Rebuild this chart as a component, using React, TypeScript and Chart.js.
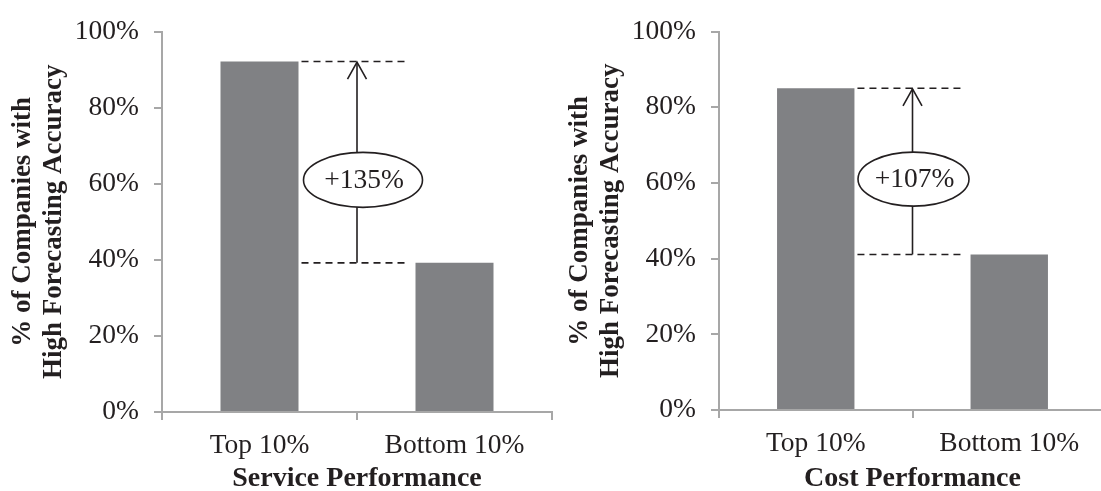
import React, { useEffect, useRef } from "react";
import { Chart, registerables } from "chart.js";

Chart.register(...registerables);

// Data
const categories = ["Top 10%", "Bottom 10%"];
const serviceValues = [92.1, 39.2];
const costValues = [85.0, 41.1];
const serviceGainLabel = "+135%";
const costGainLabel = "+107%";
const yAxisTitle = ["% of Companies with", "High Forecasting Accuracy"];
const serviceAxisTitle = "Service Performance";
const costAxisTitle = "Cost Performance";
const yMin = 0;
const yMax = 100;
const yStep = 20;
const gainLabelLevel = 61; // value on the y axis where the gain bubble sits

// Styles
const SERIF = "'Liberation Serif', 'Times New Roman', serif";
const TEXT = "#231f20";
const AXIS = "#a7a7a7";
const BAR = "#808184";
const Y_AXIS_WIDTH = 162;
const LABEL_SIZE = 27.5;

type PanelProps = {
  values: number[];
  gainLabel: string;
  xTitle: string;
  canvasLeft: number;
  plotWidth: number;
  plotTop: number;
  xAxisHeight: number;
  bubbleW: number;
  bubbleH: number;
  bubbleDx: number;
};

function Panel(props: PanelProps) {
  const ref = useRef<HTMLCanvasElement>(null);
  const width = Y_AXIS_WIDTH + props.plotWidth + 3;
  const height = 491;

  useEffect(() => {
    const { values, gainLabel } = props;

    const gainMarker = {
      id: "gainMarker",
      afterDatasetsDraw(chart: any) {
        const ctx = chart.ctx as CanvasRenderingContext2D;
        const bars = chart.getDatasetMeta(0).data as any[];
        const xs = chart.scales.x;
        const ys = chart.scales.y;
        const yHi = ys.getPixelForValue(values[0]);
        const yLo = ys.getPixelForValue(values[1]);
        const hiRight = bars[0].x + bars[0].width / 2;
        const loLeft = bars[1].x - bars[1].width / 2;
        const ax = (xs.getPixelForValue(0) + xs.getPixelForValue(1)) / 2;

        ctx.save();
        ctx.strokeStyle = TEXT;
        ctx.lineWidth = 1.6;

        // dashed reference levels
        ctx.setLineDash([7, 5]);
        for (const y of [yHi, yLo]) {
          ctx.beginPath();
          ctx.moveTo(hiRight + 3, y);
          ctx.lineTo(loLeft - 8, y);
          ctx.stroke();
        }
        ctx.setLineDash([]);

        // arrow stem and open head
        ctx.beginPath();
        ctx.moveTo(ax, yLo);
        ctx.lineTo(ax, yHi + 1);
        ctx.stroke();
        ctx.beginPath();
        ctx.moveTo(ax - 9.5, yHi + 17.5);
        ctx.lineTo(ax, yHi + 0.5);
        ctx.lineTo(ax + 9.5, yHi + 17.5);
        ctx.stroke();

        // gain bubble
        const cx = ax + props.bubbleDx;
        const cy = ys.getPixelForValue(gainLabelLevel);
        ctx.beginPath();
        ctx.ellipse(cx, cy, props.bubbleW / 2, props.bubbleH / 2, 0, 0, Math.PI * 2);
        ctx.fillStyle = "#ffffff";
        ctx.fill();
        ctx.lineWidth = 1.6;
        ctx.stroke();

        ctx.fillStyle = TEXT;
        ctx.font = `${LABEL_SIZE}px ${SERIF}`;
        ctx.textAlign = "center";
        ctx.textBaseline = "middle";
        ctx.fillText(gainLabel, cx + 1, cy + 1);
        ctx.restore();
      },
    };

    const chart = new Chart(ref.current as HTMLCanvasElement, {
      type: "bar",
      data: {
        labels: categories,
        datasets: [
          {
            data: values,
            backgroundColor: BAR,
            borderWidth: 0,
            categoryPercentage: 1,
            barPercentage: 0.4,
          },
        ],
      },
      options: {
        responsive: false,
        animation: false,
        events: [],
        layout: {
          padding: { top: props.plotTop, right: 3, bottom: 0, left: 0 },
        },
        plugins: {
          legend: { display: false },
          tooltip: { enabled: false },
        },
        scales: {
          x: {
            offset: true,
            grid: {
              display: true,
              offset: true,
              drawOnChartArea: false,
              drawTicks: true,
              tickLength: 8,
              color: AXIS,
              lineWidth: 2,
            },
            border: { display: true, color: AXIS, width: 2 },
            ticks: {
              color: TEXT,
              font: { family: SERIF, size: LABEL_SIZE },
              padding: 9,
              maxRotation: 0,
            },
            title: {
              display: true,
              text: props.xTitle,
              color: TEXT,
              font: { family: SERIF, size: 28, weight: "bold", lineHeight: 0.9 },
              padding: { top: 0, bottom: 0 },
            },
            afterFit: (scale: any) => {
              scale.height = props.xAxisHeight;
            },
          },
          y: {
            min: yMin,
            max: yMax,
            grid: {
              display: true,
              drawOnChartArea: false,
              drawTicks: true,
              tickLength: 8,
              color: AXIS,
              lineWidth: 2,
            },
            border: { display: true, color: AXIS, width: 2 },
            ticks: {
              stepSize: yStep,
              color: TEXT,
              font: { family: SERIF, size: LABEL_SIZE },
              padding: 15,
              callback: (v: any) => `${v}%`,
            },
            title: {
              display: true,
              text: yAxisTitle,
              color: TEXT,
              font: { family: SERIF, size: 27, weight: "bold", lineHeight: 1.13 },
              padding: { top: 8, bottom: 0 },
            },
            afterFit: (scale: any) => {
              scale.width = Y_AXIS_WIDTH;
            },
          },
        },
      } as any,
      plugins: [gainMarker],
    });
    return () => chart.destroy();
  }, []);

  return (
    <canvas
      ref={ref}
      width={width}
      height={height}
      style={{
        position: "absolute",
        left: props.canvasLeft,
        top: 0,
        width,
        height,
      }}
    />
  );
}

export default function App() {
  return (
    <div
      style={{
        position: "absolute",
        left: 0,
        top: 0,
        width: 1101,
        height: 491,
        overflow: "hidden",
        background: "#ffffff",
      }}
    >
      <Panel
        values={serviceValues}
        gainLabel={serviceGainLabel}
        xTitle={serviceAxisTitle}
        canvasLeft={0}
        plotWidth={390}
        plotTop={24}
        xAxisHeight={79}
        bubbleW={119}
        bubbleH={55}
        bubbleDx={6}
      />
      <Panel
        values={costValues}
        gainLabel={costGainLabel}
        xTitle={costAxisTitle}
        canvasLeft={557}
        plotWidth={387}
        plotTop={23}
        xAxisHeight={81}
        bubbleW={111}
        bubbleH={54}
        bubbleDx={1}
      />
    </div>
  );
}
